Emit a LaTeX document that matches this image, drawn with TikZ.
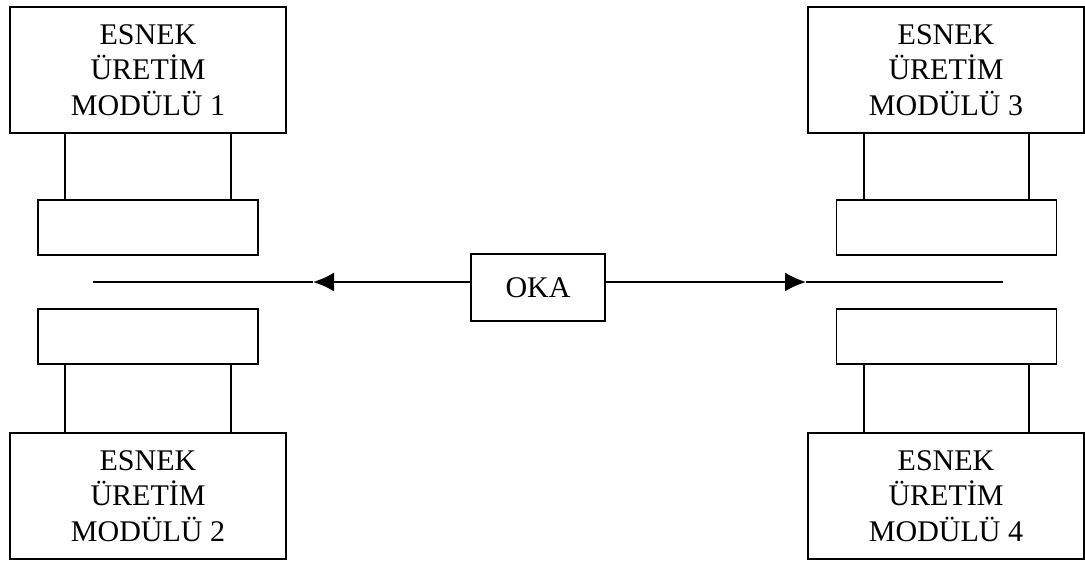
\documentclass[tikz,border=0pt]{standalone}
\usepackage{fontspec}
\setmainfont{Liberation Serif}
\usetikzlibrary{arrows.meta}
\begin{document}
\begin{tikzpicture}[x=1pt,y=-1pt,
  line width=1.8pt, line join=miter,
  module/.style={draw, rectangle, inner sep=0pt, outer sep=0pt,
    minimum width=276pt, minimum height=126pt, align=center,
    font=\fontsize{30}{35.5}\selectfont},
  station/.style={draw, rectangle, inner sep=0pt, outer sep=0pt,
    minimum width=220pt, minimum height=55pt},
  ctrl/.style={draw, rectangle, inner sep=0pt, outer sep=0pt,
    minimum width=134pt, minimum height=67pt,
    font=\fontsize{30}{35.5}\selectfont},
  flow/.style={-{Latex[length=21pt,width=19pt]}}]
\useasboundingbox (0,0) rectangle (1085,562);

% production modules
\node[module] (m1) at (148,70)  {ESNEK\\ÜRETİM\\MODÜLÜ 1};
\node[module] (m2) at (148,496) {ESNEK\\ÜRETİM\\MODÜLÜ 2};
\node[module] (m3) at (946,70)  {ESNEK\\ÜRETİM\\MODÜLÜ 3};
\node[module] (m4) at (946,496) {ESNEK\\ÜRETİM\\MODÜLÜ 4};

% loading stations
\node[station] (s1) at (148,227.5) {};
\node[station] (s2) at (148,336.5) {};
\node[station] (s3) at (946.5,227.5) {};
\node[station] (s4) at (946.5,336.5) {};

% top modules: supports go down to the station
\foreach \m/\s/\xa/\xb in {m1/s1/65/231, m3/s3/864/1029}{
  \draw (\m.south -| \xa,0) -- (\s.north -| \xa,0);
  \draw (\m.south -| \xb,0) -- (\s.north -| \xb,0);
}
% bottom modules: supports go up to the station
\foreach \m/\s/\xa/\xb in {m2/s2/65/231, m4/s4/864/1029}{
  \draw (\m.north -| \xa,0) -- (\s.south -| \xa,0);
  \draw (\m.north -| \xb,0) -- (\s.south -| \xb,0);
}

% transport vehicle and track
\node[ctrl] (oka) at (538,287.5) {OKA};
\coordinate (lt) at (313,282);
\coordinate (le) at (93,282);
\coordinate (rt) at (806,282);
\coordinate (re) at (1003,282);
\draw[flow] (oka.west |- lt) -- (lt);
\draw (lt) -- (le);
\draw[flow] (oka.east |- rt) -- (rt);
\draw (rt) -- (re);
\end{tikzpicture}
\end{document}
